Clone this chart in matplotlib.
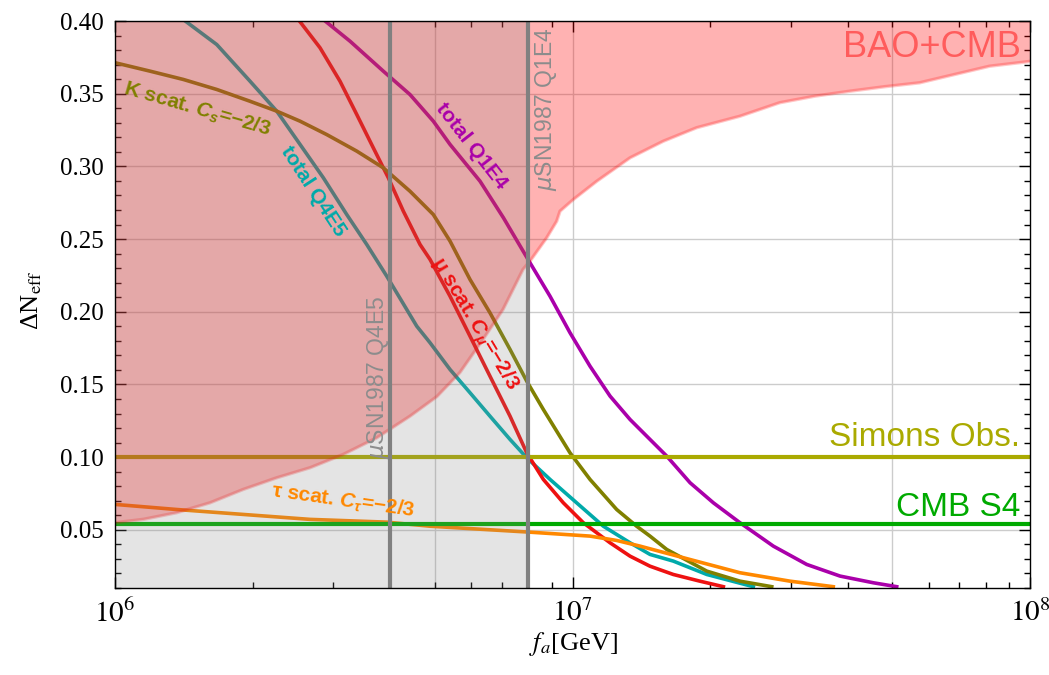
import matplotlib
matplotlib.use("Agg")
import matplotlib.pyplot as plt
from matplotlib.ticker import FixedLocator, NullFormatter, MultipleLocator
import numpy as np

plt.rcParams['mathtext.fontset'] = 'custom'
plt.rcParams['mathtext.rm'] = 'Liberation Sans:bold'
plt.rcParams['mathtext.it'] = 'Liberation Sans:bold:italic'
plt.rcParams['mathtext.bf'] = 'Liberation Sans:bold'

# ---------------- data ----------------
bao_f = [1.000e6, 1.153e6, 1.364e6, 1.613e6, 1.907e6, 2.257e6, 2.668e6, 3.155e6, 3.733e6,
         4.414e6, 5.055e6, 5.677e6, 6.374e6, 7.050e6, 7.795e6, 8.074e6, 8.783e6, 9.236e6,
         9.391e6, 1.004e7, 1.130e7, 1.336e7, 1.579e7, 1.868e7, 2.323e7, 2.838e7, 3.384e7,
         4.036e7, 4.811e7, 5.737e7, 6.839e7, 8.157e7, 1.000e8]
bao_dn = [0.0549, 0.0572, 0.0618, 0.0686, 0.0778, 0.0858, 0.0927, 0.1019, 0.1133,
          0.1282, 0.1417, 0.1583, 0.1810, 0.2016, 0.2291, 0.2348, 0.2509, 0.2623,
          0.2692, 0.2772, 0.2898, 0.3059, 0.3173, 0.3266, 0.3345, 0.3438, 0.3483,
          0.3517, 0.3548, 0.3575, 0.3632, 0.3689, 0.3722]

q4e5_f = [1.410e6, 1.669e6, 1.973e6, 2.257e6, 2.538e6, 2.853e6, 3.210e6, 3.550e6, 3.926e6,
          4.566e6, 4.882e6, 5.399e6, 5.970e6, 6.601e6, 7.302e6, 7.942e6, 8.930e6, 1.021e7,
          1.168e7, 1.336e7, 1.477e7, 1.661e7, 1.966e7, 2.485e7]
q4e5_dn = [0.4010, 0.3838, 0.3586, 0.3380, 0.3151, 0.2922, 0.2669, 0.2463, 0.2245,
           0.1901, 0.1787, 0.1603, 0.1443, 0.1282, 0.1122, 0.0996, 0.0847, 0.0686,
           0.0525, 0.0411, 0.0331, 0.0285, 0.0193, 0.0109]

mu_f = [2.516e6, 2.806e6, 3.103e6, 3.376e6, 3.669e6, 3.957e6, 4.268e6, 4.642e6, 4.882e6,
        5.399e6, 5.970e6, 6.601e6, 7.302e6, 7.942e6, 8.635e6, 9.548e6, 1.056e7, 1.208e7,
        1.336e7, 1.477e7, 1.661e7, 1.899e7, 2.137e7]
mu_dn = [0.4010, 0.3816, 0.3586, 0.3357, 0.3128, 0.2922, 0.2692, 0.2463, 0.2360,
         0.2107, 0.1832, 0.1557, 0.1282, 0.1030, 0.0847, 0.0686, 0.0549, 0.0411,
         0.0319, 0.0250, 0.0193, 0.0147, 0.0109]

q1e4_f = [2.853e6, 3.264e6, 3.859e6, 4.414e6, 4.963e6, 5.399e6, 6.279e6, 7.062e6, 8.074e6,
          8.930e6, 9.874e6, 1.092e7, 1.208e7, 1.336e7, 1.477e7, 1.607e7, 1.807e7, 2.032e7,
          2.323e7, 2.748e7, 3.251e7, 3.844e7, 4.545e7, 5.113e7]
q1e4_dn = [0.4010, 0.3861, 0.3655, 0.3494, 0.3311, 0.3151, 0.2898, 0.2647, 0.2337,
           0.2107, 0.1856, 0.1626, 0.1420, 0.1259, 0.1122, 0.1007, 0.0824, 0.0686,
           0.0549, 0.0388, 0.0262, 0.0182, 0.0136, 0.0109]

k_f = [1.000e6, 1.193e6, 1.410e6, 1.669e6, 1.973e6, 2.257e6, 2.538e6, 2.902e6, 3.376e6,
       3.859e6, 4.414e6, 4.963e6, 5.399e6, 5.970e6, 6.601e6, 7.302e6, 7.942e6, 8.635e6,
       9.874e6, 1.092e7, 1.249e7, 1.381e7, 1.477e7, 1.607e7, 1.966e7, 2.323e7, 2.726e7]
k_dn = [0.3713, 0.3655, 0.3598, 0.3529, 0.3448, 0.3380, 0.3311, 0.3219, 0.3105,
        0.2990, 0.2829, 0.2669, 0.2486, 0.2222, 0.1993, 0.1741, 0.1523, 0.1328,
        0.1030, 0.0847, 0.0640, 0.0525, 0.0457, 0.0365, 0.0216, 0.0147, 0.0109]

tau_f = [1.000e6, 1.364e6, 1.907e6, 2.668e6, 3.926e6, 4.882e6, 8.074e6, 1.092e7, 1.249e7,
         1.405e7, 1.807e7, 2.323e7, 2.988e7, 3.716e7]
tau_dn = [0.0675, 0.0640, 0.0606, 0.0572, 0.0553, 0.0525, 0.0484, 0.0457, 0.0427,
          0.0388, 0.0296, 0.0205, 0.0147, 0.0109]

simons_dn = 0.10
cmbs4_dn = 0.054
sn_q4e5 = 4.0e6
sn_q1e4 = 8.0e6

xmin, xmax = 1e6, 1e8
ymin, ymax = 0.01, 0.40

# ---------------- figure ----------------
fig = plt.figure(figsize=(10.49, 6.75), dpi=100)
ax = fig.add_axes([115/1049, 87/675, 915/1049, 567/675])
ax.set_xscale('log')
ax.set_xlim(xmin, xmax)
ax.set_ylim(ymin, ymax)

# grid
for gx in [5e6, 1e7, 5e7]:
    ax.axvline(gx, color='#cccccc', lw=1.0, zorder=1)
for gy in np.arange(0.05, 0.401, 0.05):
    ax.axhline(gy, color='#cccccc', lw=1.0, zorder=1)

# curves
lw = 2.6
ax.plot(q4e5_f, q4e5_dn, color='#00aaaa', lw=lw, zorder=2)
ax.plot(mu_f, mu_dn, color='#ee1111', lw=lw, zorder=2)
ax.plot(q1e4_f, q1e4_dn, color='#aa00aa', lw=lw, zorder=2)
ax.plot(k_f, k_dn, color='#808000', lw=lw, zorder=2)
ax.plot(tau_f, tau_dn, color='#ff8800', lw=lw, zorder=2)
ax.axhline(simons_dn, color='#aaaa00', lw=3.0, zorder=2)
ax.axhline(cmbs4_dn, color='#00aa00', lw=3.0, zorder=2)

# BAO+CMB excluded region (on top of curves, translucent)
ax.fill_between(bao_f, bao_dn, ymax, color='#ff0000', alpha=0.30, lw=0, zorder=3)
ax.plot(bao_f, bao_dn, color='#ff0000', alpha=0.22, lw=2.5, zorder=3.1)

# SN1987 excluded region (translucent gray overlay)
ax.fill_between([xmin, sn_q1e4], [ymin, ymin], [ymax, ymax], color='#868686',
                alpha=0.22, lw=0, zorder=3.5)

# SN1987 lines
ax.axvline(sn_q4e5, color='#808080', lw=3.0, zorder=4)
ax.axvline(sn_q1e4, color='#808080', lw=3.0, zorder=4)

# labels
bfont = dict(family='Liberation Sans', fontweight='bold', fontsize=15, zorder=5,
             ha='center', va='center', rotation_mode='anchor')
ax.text(2.713e6, 0.2827, 'total Q4E5', color='#00aaaa', rotation=-57, **bfont)
ax.text(6.022e6, 0.3137, 'total Q1E4', color='#aa00aa', rotation=-52, **bfont)
ax.text(1.511e6, 0.3391, r'K scat. $C_s$=−2/3', color='#808000', rotation=-16, **bfont)
ax.text(6.076e6, 0.1913, r'μ scat. $C_μ$=−2/3', color='#ee1111', rotation=-59, **bfont)
ax.text(3.151e6, 0.0695, r'τ scat. $C_τ$=−2/3', color='#ff8800', rotation=-8, **bfont)

snfont = dict(family='Liberation Sans', fontsize=16.5, color='#8c8c8c', rotation=90,
              ha='center', va='center', zorder=5, math_fontfamily='dejavusans')
ax.text(3.758e6, 0.1548, r'$\mu$SN1987 Q4E5', **snfont)
ax.text(8.75e6, 0.3391, r'$\mu$SN1987 Q1E4', **snfont)

ax.text(9.55e7, 0.3749, 'BAO+CMB', color='#ff5c5c', fontsize=26, family='Liberation Sans',
        ha='right', va='baseline', zorder=5)
ax.text(9.51e7, 0.1076, 'Simons Obs.', color='#aaaa00', fontsize=24, family='Liberation Sans',
        ha='right', va='baseline', zorder=5)
ax.text(9.51e7, 0.0594, 'CMB S4', color='#00aa00', fontsize=24, family='Liberation Sans',
        ha='right', va='baseline', zorder=5)

# ticks
ax.set_xticks([1e6, 1e7, 1e8])
xl = ax.set_xticklabels([r'$10^{6}$', r'$10^{7}$', r'$10^{8}$'])
for t in xl:
    t.set_math_fontfamily('stix')
    t.set_fontsize(21)
minors = [m * 10**e for e in (6, 7) for m in range(2, 10)]
ax.xaxis.set_minor_locator(FixedLocator(minors))
ax.xaxis.set_minor_formatter(NullFormatter())
ax.yaxis.set_major_locator(FixedLocator(list(np.round(np.arange(0.05, 0.401, 0.05), 2))))
ax.yaxis.set_minor_locator(MultipleLocator(0.01))
ax.set_yticklabels(['%.2f' % v for v in np.arange(0.05, 0.401, 0.05)],
                   family='Liberation Serif', fontsize=18)
ax.tick_params(which='both', direction='in', top=True, right=True, colors='black', width=1.0)
ax.tick_params(which='major', length=8, pad=8)
ax.tick_params(which='minor', length=4.5)
for s in ax.spines.values():
    s.set_linewidth(1.0)
    s.set_zorder(6)

xlab = ax.set_xlabel(r'$f_a$[GeV]', family='Liberation Serif', fontsize=19)
xlab.set_math_fontfamily('stix')
ax.xaxis.set_label_coords(0.5016, -0.074)
ylab = ax.set_ylabel(r'ΔN$_{\mathrm{eff}}$', family='Liberation Serif', fontsize=19)
ylab.set_math_fontfamily('stix')
ax.yaxis.set_label_coords(-0.078, 0.508)

fig.savefig('out.png', dpi=100)
